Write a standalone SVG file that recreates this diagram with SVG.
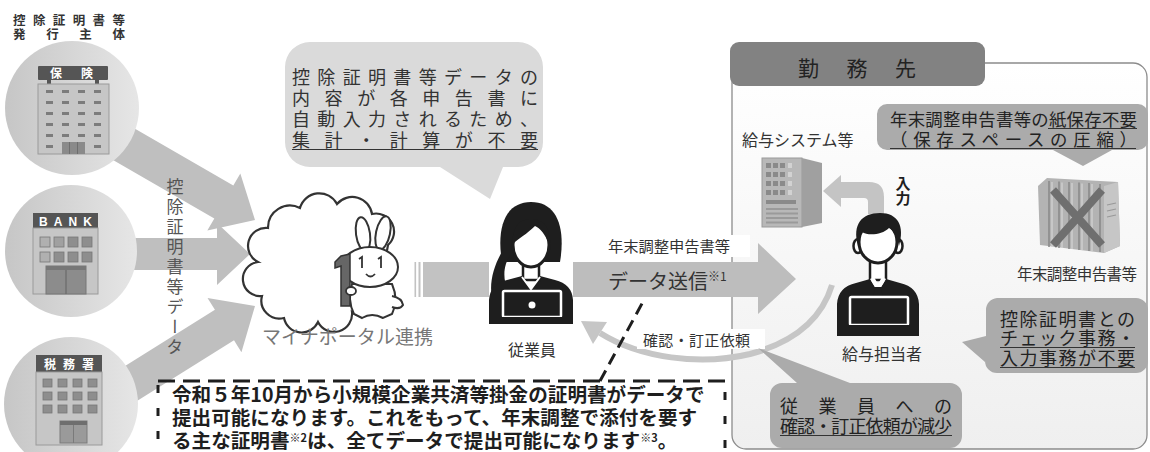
<svg xmlns="http://www.w3.org/2000/svg" width="1150" height="452" viewBox="0 0 1150 452">
<defs>
  <linearGradient id="discGrad" x1="0" y1="0" x2="1" y2="0">
    <stop offset="0" stop-color="#c6c6c6"/>
    <stop offset="1" stop-color="#e6e6e6"/>
  </linearGradient>
  <linearGradient id="officeGrad" x1="0" y1="0" x2="0" y2="1">
    <stop offset="0" stop-color="#ffffff"/>
    <stop offset="1" stop-color="#efefef"/>
  </linearGradient>
  <style>
    text { font-family: "Noto Sans CJK JP", "Noto Sans", sans-serif; fill: #333; }
    .bold { font-weight: bold; }
    .flow { fill: #bfbfbf; }
    .sign { fill: #555; }
    .wall { fill: #c6c6c6; stroke: #9a9a9a; stroke-width: 1; }
    .win { fill: #7c7c7c; }
    .pane { fill: #8e8e8e; stroke: #777; stroke-width: 0.8; }
    .bubble-light { fill: #dadada; }
    .bubble { fill: #ababab; }
    .skin { fill: #fff; stroke: #1e1e1e; stroke-width: 3; }
    .uline { stroke: #333; stroke-width: 1.2; }
    .dash { fill: none; stroke: #1e1e1e; stroke-width: 3; }
    .dark { fill: #1e1e1e; }
    .note-dark { fill: #222; }
    .callout { font-weight: bold; fill: #1e1e1e; }
    .vertical { writing-mode: vertical-rl; }
  </style>
</defs>

<rect width="1150" height="452" fill="#fff"/>

<!-- workplace frame -->
<g id="workplace">
  <rect x="732" y="63" width="415" height="386" rx="14" fill="url(#officeGrad)" stroke="#8c8c8c" stroke-width="1.3"/>
  <rect x="730" y="42" width="255" height="44" rx="9" fill="#828282"/>
  <text x="798" y="76" font-size="21" class="note-dark" textLength="118" lengthAdjust="spacing">勤務先</text>
</g>

<!-- heading -->
<g id="issuer-heading">
  <text x="13" y="25" font-size="12.5" class="bold" textLength="112" lengthAdjust="spacing">控除証明書等</text>
  <text x="13" y="39" font-size="12.5" class="bold" textLength="112" lengthAdjust="spacing">発行主体</text>
</g>

<!-- connectors -->
<g id="connectors">
  <!-- issuers to portal -->
  <polygon class="flow" transform="translate(255,220) rotate(30)" points="-190,-19 -36,-19 -36,-33 0,0 -36,33 -36,19 -190,19"/>
  <polygon class="flow" transform="translate(250,254)" points="-160,-16 -33,-16 -33,-31 0,0 -33,31 -33,16 -160,16"/>
  <polygon class="flow" transform="translate(255,306) rotate(-32)" points="-190,-18 -36,-18 -36,-32 0,0 -36,32 -36,18 -190,18"/>
  <!-- portal to employee -->
  <rect x="414.5" y="262" width="1.6" height="35" fill="#c2c2c2"/>
  <rect x="418.5" y="262" width="2" height="35" fill="#c2c2c2"/>
  <rect x="423" y="262" width="66" height="35" fill="#c2c2c2"/>
  <!-- data submission -->
  <polygon fill="#bdbdbd" points="573,262 758,262 758,243 796,279 758,314 758,297 573,297"/>
  <!-- confirmation / correction request -->
  <path d="M600,333 C640,358 700,366 750,354 C795,342 822,318 832,285" fill="none" stroke="#c6c6c6" stroke-width="6"/>
  <polygon fill="#c6c6c6" points="581,321 607,322 593,344"/>
  <!-- input to payroll system -->
  <path fill="#c4c4c4" d="M884,214 L884,197 Q884,182 869,182 L841,182 L841,175 L823,191 L841,207 L841,198 L864,198 Q868,198 868,202 L868,214 Z"/>
</g>

<!-- vertical flow label -->
<text x="175" y="178" font-size="17" class="vertical" style="fill:#555; letter-spacing: 3px;">控除証明書等データ</text>

<!-- issuer: insurer -->
<g id="issuer-insurer">
  <circle cx="72" cy="108" r="67" fill="url(#discGrad)"/>
  <rect class="sign" x="38" y="66" width="70" height="14" rx="1"/>
  <text x="50" y="77.5" font-size="12" class="bold" style="fill:#fff" textLength="43" lengthAdjust="spacing">保険</text>
  <rect class="sign" x="47" y="80" width="4" height="4"/>
  <rect class="sign" x="95" y="80" width="4" height="4"/>
  <rect class="wall" x="38" y="84" width="71" height="70"/>
  <g class="win">
    <rect x="46" y="90" width="7" height="3"/><rect x="62" y="90" width="7" height="3"/><rect x="78" y="90" width="7" height="3"/><rect x="94" y="90" width="7" height="3"/>
    <rect x="46" y="101" width="7" height="3"/><rect x="62" y="101" width="7" height="3"/><rect x="78" y="101" width="7" height="3"/><rect x="94" y="101" width="7" height="3"/>
    <rect x="46" y="112" width="7" height="3"/><rect x="62" y="112" width="7" height="3"/><rect x="78" y="112" width="7" height="3"/><rect x="94" y="112" width="7" height="3"/>
    <rect x="46" y="123" width="7" height="3"/><rect x="62" y="123" width="7" height="3"/><rect x="78" y="123" width="7" height="3"/><rect x="94" y="123" width="7" height="3"/>
    <rect x="46" y="134" width="7" height="3"/><rect x="62" y="134" width="7" height="3"/><rect x="78" y="134" width="7" height="3"/><rect x="94" y="134" width="7" height="3"/>
    <rect x="46" y="145" width="7" height="3"/><rect x="94" y="145" width="7" height="3"/>
  </g>
  <rect x="62" y="142" width="23" height="12" fill="#8a8a8a"/>
  <path d="M69.5,142 V154 M77.5,142 V154" stroke="#6e6e6e" stroke-width="1"/>
</g>

<!-- issuer: bank -->
<g id="issuer-bank">
  <circle cx="71" cy="251" r="66" fill="url(#discGrad)"/>
  <rect class="sign" x="33" y="213" width="65" height="15"/>
  <text x="39" y="225.5" font-size="12" class="bold" style="fill:#fff; font-family:'Liberation Sans', sans-serif;" textLength="53" lengthAdjust="spacing">BANK</text>
  <rect class="wall" x="33" y="228" width="65" height="66"/>
  <rect class="pane" x="40" y="237" width="10" height="10" style="fill:#b0b0b0"/>
  <rect class="pane" x="54" y="237" width="10" height="10" style="fill:#a0a0a0"/>
  <rect class="pane" x="68" y="237" width="10" height="10"/>
  <rect class="pane" x="82" y="237" width="10" height="10"/>
  <rect class="pane" x="40" y="252" width="10" height="10" style="fill:#b0b0b0"/>
  <rect class="pane" x="54" y="252" width="10" height="10"/>
  <rect class="pane" x="68" y="252" width="10" height="10"/>
  <rect class="pane" x="82" y="252" width="10" height="10"/>
  <rect x="46" y="266" width="40" height="28" fill="#8c8c8c" stroke="#777" stroke-width="1"/>
  <rect x="46" y="266" width="40" height="4" fill="#777"/>
  <path d="M66,270 V294" stroke="#6a6a6a" stroke-width="1.2"/>
</g>

<!-- issuer: tax office -->
<g id="issuer-tax-office">
  <circle cx="71" cy="404" r="67" fill="url(#discGrad)"/>
  <rect class="sign" x="36" y="355" width="66" height="17"/>
  <text x="44" y="368.5" font-size="12" class="bold" style="fill:#fff" textLength="50" lengthAdjust="spacing">税務署</text>
  <rect class="wall" x="36" y="372" width="66" height="73"/>
  <g class="pane">
    <rect x="43" y="379" width="9" height="8"/><rect x="58" y="379" width="9" height="8"/><rect x="73" y="379" width="9" height="8"/><rect x="88" y="379" width="9" height="8"/>
    <rect x="43" y="392" width="9" height="8"/><rect x="58" y="392" width="9" height="8"/><rect x="73" y="392" width="9" height="8"/><rect x="88" y="392" width="9" height="8"/>
    <rect x="43" y="405" width="9" height="8"/><rect x="58" y="405" width="9" height="8"/><rect x="73" y="405" width="9" height="8"/><rect x="88" y="405" width="9" height="8"/>
  </g>
  <rect x="60" y="421" width="27" height="22" fill="#9a9a9a" stroke="#7a7a7a" stroke-width="1"/>
  <rect x="60" y="421" width="27" height="4" fill="#6e6e6e"/>
  <path d="M73.5,425 V443" stroke="#7a7a7a" stroke-width="1"/>
</g>

<!-- comment bubble above employee -->
<g id="note-auto-entry">
  <path class="bubble-light" d="M310,42 H518 A25,25 0 0 1 543,67 V142 A25,25 0 0 1 518,167 H503 L490,199 L440,167 H310 A25,25 0 0 1 285,142 V67 A25,25 0 0 1 310,42 Z"/>
  <text x="292" y="84" font-size="18" textLength="246" lengthAdjust="spacing">控除証明書等データの</text>
  <text x="292" y="105" font-size="18" textLength="246" lengthAdjust="spacing">内容が各申告書に</text>
  <text x="292" y="126" font-size="18" textLength="246" lengthAdjust="spacing">自動入力されるため、</text>
  <text x="292" y="147" font-size="18" textLength="246" lengthAdjust="spacing">集計・計算が不要</text>
  <line class="uline" x1="292" y1="149.5" x2="538" y2="149.5"/>
</g>

<!-- Mynaportal cloud with mascot -->
<g id="mynaportal">
  <path d="M258,262 A18,18 0 0 1 268,228 A22,22 0 0 1 300,208 A20,20 0 0 1 337,204 A20,20 0 0 1 372,214 A18,18 0 0 1 388,245 L378,300 A16,16 0 0 1 352,312 A18,18 0 0 1 318,322 A18,18 0 0 1 284,318 A18,18 0 0 1 262,296 A17,17 0 0 1 258,262 Z" fill="#fff" stroke="#333" stroke-width="2.2"/>
  <ellipse cx="363" cy="234" rx="7" ry="17" transform="rotate(-8 363 234)" fill="#fff" stroke="#333" stroke-width="2"/>
  <ellipse cx="383" cy="233" rx="7" ry="17" transform="rotate(12 383 233)" fill="#fff" stroke="#333" stroke-width="2"/>
  <path d="M352,284 Q347,300 354,314 L362,318 Q372,312 383,318 L392,314 Q399,300 392,284 Z" fill="#fff" stroke="#333" stroke-width="2"/>
  <path d="M392,296 Q402,298 403,305 Q400,310 392,307" fill="#fff" stroke="#333" stroke-width="2"/>
  <ellipse cx="370" cy="267" rx="28" ry="20" fill="#fff" stroke="#333" stroke-width="2"/>
  <path d="M359,259 L362,257 V268 M378,259 L381,257 V268" fill="none" stroke="#333" stroke-width="1.8"/>
  <path d="M366,274 Q370.5,279 375,274" fill="none" stroke="#333" stroke-width="1.8"/>
  <path d="M341,256 L350,254 V306 L341,306 V266 L335,268 L335,262 Z" fill="#666" stroke="#333" stroke-width="1.5"/>
  <ellipse cx="351" cy="291" rx="5" ry="4" fill="#fff" stroke="#333" stroke-width="1.8"/>
  <text x="262" y="344" font-size="19" style="fill:#777" textLength="171" lengthAdjust="spacing">マイナポータル連携</text>
</g>

<!-- employee -->
<g id="employee">
  <path class="dark" d="M502,262 C496,226 506,202 531,202 C556,202 566,226 560,262 Z"/>
  <path class="dark" d="M503,250 C492,268 487,290 495,307 C499,300 503,294 508,290 C502,278 504,264 510,256 Z"/>
  <path class="dark" d="M489,324 V300 Q490,284 507,280 L522,276 L531,289 L540,276 L555,280 Q572,284 573,300 V324 Z"/>
  <rect x="523" y="262" width="16" height="18" fill="#fff" stroke="#1e1e1e" stroke-width="2.5"/>
  <ellipse class="skin" cx="531" cy="245" rx="18" ry="22"/>
  <path class="dark" d="M513,244 C512,226 520,219 531,219 C544,219 551,228 549,244 C545,234 540,228 535,226 C527,234 519,238 513,244 Z"/>
  <path d="M522,277 L531,289 L540,277" fill="none" stroke="#fff" stroke-width="2"/>
  <rect x="503" y="291" width="58" height="26" rx="1.5" fill="#1e1e1e" stroke="#fff" stroke-width="2.5"/>
  <circle cx="532" cy="305" r="3.5" fill="#fff"/>
  <rect x="497" y="317" width="70" height="6" fill="#1e1e1e"/>
  <text x="532" y="356" font-size="16" text-anchor="middle">従業員</text>
</g>

<!-- submission labels -->
<g id="submission-labels">
  <rect x="600" y="235" width="150" height="22" fill="#fff"/>
  <text x="608" y="252" font-size="15.3" textLength="122" lengthAdjust="spacing">年末調整申告書等</text>
  <text x="608" y="289" font-size="20">データ送信<tspan font-size="12" dy="-8">※1</tspan></text>
  <rect x="637" y="329" width="128" height="20" fill="#fff"/>
  <text x="643" y="346" font-size="15" textLength="107" lengthAdjust="spacing">確認・訂正依頼</text>
</g>

<!-- payroll system -->
<g id="payroll-system">
  <text x="742" y="146" font-size="16">給与システム等</text>
  <rect x="762" y="158" width="40" height="69" fill="#b8b8b8" stroke="#9a9a9a" stroke-width="1"/>
  <polygon points="802,158 822,163 822,223 802,227" fill="#a0a0a0"/>
  <g fill="#8a8a8a">
    <rect x="766" y="163" width="5" height="5"/><rect x="773" y="163" width="5" height="5"/><rect x="780" y="163" width="5" height="5"/>
    <rect x="766" y="172" width="5" height="5"/><rect x="773" y="172" width="5" height="5"/><rect x="780" y="172" width="5" height="5"/>
    <rect x="766" y="181" width="5" height="5"/><rect x="773" y="181" width="5" height="5"/><rect x="780" y="181" width="5" height="5"/>
    <rect x="766" y="190" width="5" height="5"/><rect x="773" y="190" width="5" height="5"/><rect x="780" y="190" width="5" height="5"/>
    <rect x="766" y="200" width="30" height="4"/>
  </g>
  <g fill="#d2d2d2">
    <rect x="788" y="163" width="4" height="5"/><rect x="788" y="172" width="4" height="5"/><rect x="788" y="181" width="4" height="5"/><rect x="788" y="190" width="4" height="5"/>
  </g>
  <g fill="#9a9a9a">
    <rect x="766" y="208" width="32" height="2"/><rect x="766" y="212.5" width="32" height="2"/><rect x="766" y="217" width="32" height="2"/><rect x="766" y="221.5" width="32" height="2"/>
  </g>
  <text x="903" y="176" font-size="15" class="bold vertical" style="fill:#1e1e1e">入力</text>
</g>

<!-- payroll clerk -->
<g id="payroll-clerk">
  <path class="dark" d="M837,336 V304 Q838,287 856,283 L870,279 L878,292 L886,279 L900,283 Q918,287 919,304 V336 Z"/>
  <rect x="870" y="258" width="16" height="22" fill="#fff" stroke="#1e1e1e" stroke-width="2.5"/>
  <ellipse class="skin" cx="858" cy="246" rx="4.5" ry="7" style="stroke-width:2.5"/>
  <ellipse class="skin" cx="898" cy="246" rx="4.5" ry="7" style="stroke-width:2.5"/>
  <ellipse class="skin" cx="878" cy="242" rx="19" ry="21"/>
  <path class="dark" d="M858,246 C852,224 862,213 880,213 C898,213 905,226 899,246 C897,236 893,230 889,228 C882,235 868,236 862,232 C860,236 859,240 858,246 Z"/>
  <path d="M870,279 L878,292 L886,279 L882,277 L878,284 L874,277 Z" fill="#fff"/>
  <polygon class="dark" points="875,287 881,287 883,299 878,303 873,299"/>
  <rect x="850" y="297" width="58" height="28" rx="1.5" fill="#1e1e1e" stroke="#fff" stroke-width="2.5"/>
  <rect x="843" y="325" width="72" height="6" fill="#1e1e1e"/>
  <text x="882" y="360" font-size="16" text-anchor="middle">給与担当者</text>
</g>

<!-- paper forms no longer kept -->
<g id="paper-forms">
  <polygon points="1038,186 1047,178 1118,182 1120,246 1104,253 1040,245" fill="#b3b3b3"/>
  <polygon points="1104,186 1118,182 1120,246 1104,253" fill="#c6c6c6"/>
  <path d="M1049,181 V247 M1059,181.5 V248 M1069,182 V249 M1079,182.5 V250 M1089,183 V251 M1100,184 V252" stroke="#8a8a8a" stroke-width="1.6"/>
  <path d="M1052,182 V247 M1062,182.5 V248 M1072,183 V249 M1082,183.5 V250 M1092,184 V251" stroke="#d4d4d4" stroke-width="1.2"/>
  <path d="M1107,205 L1116,203 M1107,211 L1116,209 M1107,217 L1116,215" stroke="#999" stroke-width="1.2"/>
  <path d="M1053,190 L1102,245 M1102,190 L1053,245" stroke="#6f6f6f" stroke-width="8"/>
  <text x="1017" y="280" font-size="15.5" textLength="120" lengthAdjust="spacing">年末調整申告書等</text>
</g>

<!-- note: no paper storage -->
<g id="note-paper-storage">
  <path class="bubble" d="M887,104 H1138 A10,10 0 0 1 1148,114 V140 A10,10 0 0 1 1138,150 H1112 L1083,166 L1053,150 H887 A10,10 0 0 1 877,140 V114 A10,10 0 0 1 887,104 Z"/>
  <text x="890" y="126" font-size="17.4" class="note-dark" textLength="247" lengthAdjust="spacing">年末調整申告書等の紙保存不要</text>
  <line class="uline" x1="1048" y1="128.5" x2="1137" y2="128.5"/>
  <text x="890" y="146" font-size="17.4" class="note-dark" textLength="247" lengthAdjust="spacing">（保存スペースの圧縮）</text>
  <line class="uline" x1="890" y1="148.5" x2="1136" y2="148.5"/>
</g>

<!-- note: no cross-check work -->
<g id="note-no-check">
  <path class="bubble" d="M997,298 H1136 A12,12 0 0 1 1148,310 V361 A12,12 0 0 1 1136,373 H997 A12,12 0 0 1 985,361 V362 L962,342 L986,336 V310 A12,12 0 0 1 997,298 Z"/>
  <text x="1000" y="326" font-size="18" class="note-dark" textLength="135" lengthAdjust="spacing">控除証明書との</text>
  <text x="1000" y="345" font-size="18" class="note-dark" textLength="135" lengthAdjust="spacing">チェック事務・</text>
  <line class="uline" x1="1000" y1="347.5" x2="1135" y2="347.5"/>
  <text x="1000" y="365" font-size="18" class="note-dark" textLength="135" lengthAdjust="spacing">入力事務が不要</text>
  <line class="uline" x1="1000" y1="367.5" x2="1135" y2="367.5"/>
</g>

<!-- note: fewer correction requests -->
<g id="note-fewer-requests">
  <path class="bubble" d="M782,383 H797 L758,348 L850,383 H950 A12,12 0 0 1 962,395 V436 A12,12 0 0 1 950,448 H782 A12,12 0 0 1 770,436 V395 A12,12 0 0 1 782,383 Z"/>
  <text x="780" y="413" font-size="18" class="note-dark" textLength="172" lengthAdjust="spacing">従業員への</text>
  <text x="780" y="433" font-size="18" class="note-dark" textLength="172" lengthAdjust="spacing">確認・訂正依頼が減少</text>
  <line class="uline" x1="780" y1="435.5" x2="952" y2="435.5"/>
</g>

<!-- dashed callout -->
<g id="callout-mutual-aid">
  <path class="dash" d="M158,381 H733" stroke-dasharray="17 8"/>
  <path class="dash" d="M600,381 L645,298" stroke-dasharray="12 7"/>
  <path class="dash" d="M158,385 V452" stroke-dasharray="8 15"/>
  <path class="dash" d="M725,392 V452" stroke-dasharray="8 16"/>
  <text x="172" y="402" font-size="19.6" class="callout">令和５年10月から小規模企業共済等掛金の証明書がデータで</text>
  <text x="172" y="425" font-size="19.6" class="callout">提出可能になります。これをもって、年末調整で添付を要す</text>
  <text x="172" y="448" font-size="19.6" class="callout">る主な証明書<tspan font-size="11" dy="-6">※2</tspan><tspan dy="6">は、全てデータで提出可能になります</tspan><tspan font-size="11" dy="-6">※3</tspan><tspan dy="6">。</tspan></text>
</g>
</svg>
